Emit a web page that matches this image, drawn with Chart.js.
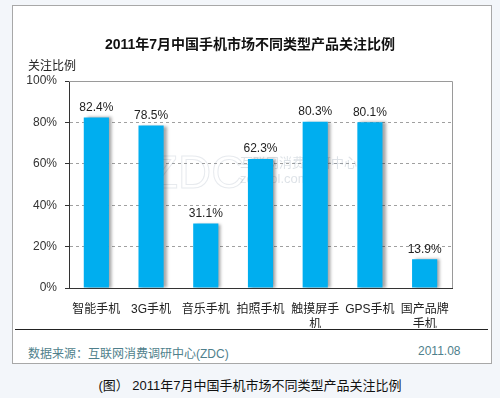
<!DOCTYPE html>
<html>
<head>
<meta charset="utf-8">
<script src="https://cdn.jsdelivr.net/npm/chart.js@4"></script>
<style>
  body { margin: 0; width: 500px; height: 398px; background: #f3f6fa; position: relative; overflow: hidden;
         font-family: "Liberation Sans", Arial, "Noto Sans CJK SC", sans-serif; }
  #box { position: absolute; left: 12px; top: 5px; width: 478px; height: 357px; background: #fff; border: 1px solid #a8a8a8; }
  #wrap { position: absolute; left: 0; top: 0; width: 500px; height: 340px; }
  .txt { position: absolute; white-space: nowrap; }
  #title { left: 0; width: 500px; top: 33px; text-align: center; font-size: 14px; font-weight: bold; color: #111; }
  #ylab { left: 28px; top: 56px; font-size: 12px; color: #222; }
  #sep { position: absolute; left: 15px; top: 329px; width: 473px; height: 1px; background: #222; }
  #src { left: 28px; top: 344px; font-size: 12px; color: #4f7f8c; }
  #date { left: 418px; width: 41px; top: 344px; font-size: 12px; color: #4f7f8c; text-align: right; }
  #cap { left: 0; width: 500px; top: 375px; text-align: center; font-size: 13px; color: #111; }
</style>
</head>
<body>
<div id="box"></div>
<div id="wrap"><canvas id="grafico"></canvas></div>
<div class="txt" id="title">2011年7月中国手机市场不同类型产品关注比例</div>
<div class="txt" id="ylab">关注比例</div>
<div id="sep"></div>
<div class="txt" id="src">数据来源：互联网消费调研中心(ZDC)</div>
<div class="txt" id="date">2011.08</div>
<div class="txt" id="cap">(图） 2011年7月中国手机市场不同类型产品关注比例</div>
<script>
const categorias = [["智能手机"], ["3G手机"], ["音乐手机"], ["拍照手机"], ["触摸屏手", "机"], ["GPS手机"], ["国产品牌", "手机"]];
const valores = [82.4, 78.5, 31.1, 62.3, 80.3, 80.1, 13.9];
const ticksY = [0, 20, 40, 60, 80, 100];

const fonteBase = '"Liberation Sans", Arial, "Noto Sans CJK SC", sans-serif';

// marca d'agua + sombra das barras
const sombra = {
  id: 'sombra',
  beforeDatasetsDraw(chart) {
    const ctx = chart.ctx;
    ctx.save();
    ctx.strokeStyle = 'rgba(120,140,160,0.18)';
    ctx.font = '46px ' + fonteBase;
    ctx.lineWidth = 1;
    ctx.strokeText('ZDC', 150, 188);
    ctx.font = '13px ' + fonteBase;
    ctx.fillStyle = 'rgba(120,140,160,0.25)';
    ctx.fillText('互联网消费调研中心', 240, 167);
    ctx.fillText('zdc.zol.com.cn', 240, 183);
    ctx.restore();

    ctx.save();
    ctx.shadowColor = 'rgba(0,0,0,0.35)';
    ctx.shadowOffsetX = 3;
    ctx.shadowOffsetY = 0;
    ctx.shadowBlur = 3;
  },
  afterDatasetsDraw(chart) {
    const ctx = chart.ctx;
    ctx.restore();
    const a = chart.chartArea;
    // moldura superior e direita
    ctx.save();
    ctx.strokeStyle = '#9a9a9a';
    ctx.lineWidth = 1;
    ctx.beginPath();
    ctx.moveTo(a.left, a.top + 0.5);
    ctx.lineTo(a.right + 0.5, a.top + 0.5);
    ctx.lineTo(a.right + 0.5, a.bottom);
    ctx.stroke();
    // rotulos
    ctx.fillStyle = '#222';
    ctx.font = '12px ' + fonteBase;
    ctx.textAlign = 'center';
    ctx.textBaseline = 'bottom';
    chart.getDatasetMeta(0).data.forEach((bar, i) => {
      ctx.fillText(valores[i].toFixed(1) + '%', bar.x, bar.y - 4);
    });
    ctx.restore();
  }
};

new Chart(document.getElementById('grafico').getContext('2d'), {
  type: 'bar',
  data: {
    labels: categorias,
    datasets: [{
      data: valores,
      backgroundColor: '#00aeef',
      borderWidth: 0,
      categoryPercentage: 1,
      barPercentage: 0.46
    }]
  },
  options: {
    responsive: true,
    maintainAspectRatio: false,
    animation: false,
    layout: { padding: { top: 81, right: 48, bottom: 12, left: 0 } },
    plugins: { legend: { display: false }, tooltip: { enabled: false }, title: { display: false } },
    scales: {
      x: {
        grid: { display: false, drawTicks: false },
        border: { display: true, color: '#333', width: 1 },
        ticks: { color: '#222', padding: 14, font: { size: 12, family: fonteBase, lineHeight: 1.25 }, maxRotation: 0, autoSkip: false },
        afterFit(scale) { scale.height = 40; }
      },
      y: {
        min: 0,
        max: 100,
        afterBuildTicks(scale) { scale.ticks = ticksY.map(v => ({ value: v })); },
        grid: {
          color: ctx => (ctx.tick && (ctx.tick.value === 0 || ctx.tick.value === 100)) ? 'rgba(0,0,0,0)' : '#a0a0a0',
          tickColor: '#333',
          tickLength: 4,
          lineWidth: 1
        },
        border: { display: true, color: '#333', width: 1, dash: [3, 3] },
        ticks: { color: '#333', padding: 8, font: { size: 12, family: fonteBase }, callback: v => v + '%' },
        afterFit(scale) { scale.width = 69; }
      }
    }
  },
  plugins: [sombra]
});
</script>
</body>
</html>
